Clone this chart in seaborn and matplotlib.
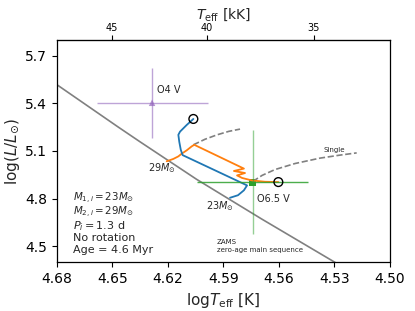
import numpy as np
import pandas as pd
import matplotlib
matplotlib.use("Agg")
import matplotlib.pyplot as plt
import seaborn as sns

# ---------------- data ----------------
zams_logT = [4.690, 4.680, 4.6469, 4.6350, 4.6044, 4.5693, 4.5315, 4.520]
zams_logL = [5.585, 5.519, 5.252, 5.158, 4.921, 4.671, 4.410, 4.330]

blue_logT = [4.5864, 4.5821, 4.5789, 4.5772, 4.6120, 4.6130, 4.6138, 4.6143, 4.6134, 4.6098, 4.6062]
blue_logL = [4.805, 4.821, 4.852, 4.883, 5.074, 5.108, 5.158, 5.202, 5.222, 5.264, 5.302]

orange_logT = [4.6206, 4.6170, 4.6143, 4.6125, 4.6098, 4.6071, 4.6057, 4.5789, 4.5843,
               4.5783, 4.5826, 4.5799, 4.5745, 4.5675, 4.5603]
orange_logL = [5.035, 5.050, 5.066, 5.083, 5.104, 5.129, 5.139, 4.989, 4.974,
               4.961, 4.946, 4.930, 4.914, 4.906, 4.904]

single1_logT = [4.6062, 4.5999, 4.5934, 4.5870, 4.5810]
single1_logL = [5.139, 5.174, 5.202, 5.224, 5.238]

single2_logT = [4.5741, 4.5691, 4.5621, 4.5513, 4.5378, 4.5270, 4.5180]
single2_logL = [4.908, 4.946, 4.983, 5.021, 5.055, 5.074, 5.088]

end_logT = [4.6062, 4.5603]
end_logL = [5.302, 4.904]

o4_logT, o4_logL, o4_errT, o4_errL = 4.6285, 5.404, 0.030, 0.220
o65_logT, o65_logL, o65_errT, o65_errL = 4.5742, 4.904, 0.030, 0.326

top_ticks_kK = [45, 40, 35]
bottom_ticks = [4.68, 4.65, 4.62, 4.59, 4.56, 4.53, 4.50]
left_ticks = [4.5, 4.8, 5.1, 5.4, 5.7]

info_lines = [r"$M_{1,i}=23M_{\odot}$", r"$M_{2,i}=29M_{\odot}$", r"$P_i=1.3$ d",
              "No rotation", "Age = 4.6 Myr"]

# ---------------- plot ----------------
sns.set_style("ticks")
plt.rcParams['font.family'] = ['DejaVu Sans']
plt.rcParams['mathtext.fontset'] = 'dejavusans'

fig = plt.figure(figsize=(4.15, 3.11), dpi=100)
ax = fig.add_axes([0.1366, 0.1576, 0.8032, 0.7138])

sns.lineplot(x=zams_logT, y=zams_logL, sort=False, estimator=None, color='gray', lw=1.2, ax=ax)
sns.lineplot(x=single1_logT, y=single1_logL, sort=False, estimator=None, color='gray',
             lw=1.2, linestyle='--', ax=ax)
sns.lineplot(x=single2_logT, y=single2_logL, sort=False, estimator=None, color='gray',
             lw=1.2, linestyle='--', ax=ax)
sns.lineplot(x=orange_logT, y=orange_logL, sort=False, estimator=None, color='#ff7f0e', lw=1.3, ax=ax)
sns.lineplot(x=blue_logT, y=blue_logL, sort=False, estimator=None, color='#1f77b4', lw=1.3, ax=ax)

ax.errorbar(o4_logT, o4_logL, xerr=o4_errT, yerr=o4_errL, fmt='none', ecolor='#9467bd',
            alpha=0.6, elinewidth=1.0)
sns.scatterplot(x=[o4_logT], y=[o4_logL], marker='^', color='#9467bd', alpha=0.7, s=22,
                edgecolor='none', ax=ax)

ax.errorbar(o65_logT, o65_logL, xerr=o65_errT, fmt='none', ecolor='#2ca02c', alpha=0.85, elinewidth=1.0)
ax.errorbar(o65_logT, o65_logL, yerr=o65_errL, fmt='none', ecolor='#2ca02c', alpha=0.5, elinewidth=1.0)
sns.scatterplot(x=[o65_logT], y=[o65_logL], marker='s', color='#2ca02c', s=25, edgecolor='none', ax=ax)

sns.scatterplot(x=end_logT, y=end_logL, marker='o', facecolor='none', edgecolor='black',
                linewidth=1.0, s=40, ax=ax, zorder=5)

ax.text(4.626, 5.4875, "O4 V", fontsize=7, va='center', ha='left')
ax.text(4.5721, 4.796, "O6.5 V", fontsize=7, va='center', ha='left')
ax.text(4.6230, 4.994, r"$29M_{\odot}$", fontsize=7, va='center', ha='center')
ax.text(4.5918, 4.754, r"$23M_{\odot}$", fontsize=7, va='center', ha='center')
ax.text(4.536, 5.107, "Single", fontsize=5, va='center', ha='left')
ax.text(4.5936, 4.525, "ZAMS", fontsize=5, va='center', ha='left')
ax.text(4.5936, 4.477, "zero-age main sequence", fontsize=5, va='center', ha='left')

info_y = [0.288, 0.224, 0.162, 0.107, 0.054]
info_fs = [7.4, 7.4, 8, 8, 8]
for s, yy, fs in zip(info_lines, info_y, info_fs):
    ax.text(0.05, yy, s, transform=ax.transAxes, fontsize=fs, va='center', ha='left')

ax.set_xlim(4.68, 4.50)
ax.set_ylim(4.4, 5.8)
ax.set_xticks(bottom_ticks)
ax.set_xticklabels([f"{t:.2f}" for t in bottom_ticks])
ax.set_yticks(left_ticks)
ax.set_yticklabels([f"{t:.1f}" for t in left_ticks])
ax.tick_params(labelsize=10, length=3.5, width=0.8, colors='black')
ax.set_xlabel(r"log$T_{\rm eff}$ [K]", fontsize=11)
ax.set_ylabel(r"log$(L/L_{\odot})$", fontsize=11, labelpad=2)
for sp in ax.spines.values():
    sp.set_visible(True)
    sp.set_color('black')
    sp.set_linewidth(0.9)

sec = ax.secondary_xaxis('top', functions=(lambda x: 10 ** (np.asarray(x) + 0.003) / 1000.0,
                                            lambda t: np.log10(np.clip(np.asarray(t), 1e-6, None) * 1000.0) - 0.003))
sec.set_xticks(top_ticks_kK)
sec.set_xticklabels([str(t) for t in top_ticks_kK])
sec.tick_params(labelsize=7, length=3.5, width=0.8, colors='black', pad=1.5)
sec.set_xlabel(r"$T_{\rm eff}$ [kK]", fontsize=10, labelpad=3)

fig.savefig("out.png", dpi=100)
